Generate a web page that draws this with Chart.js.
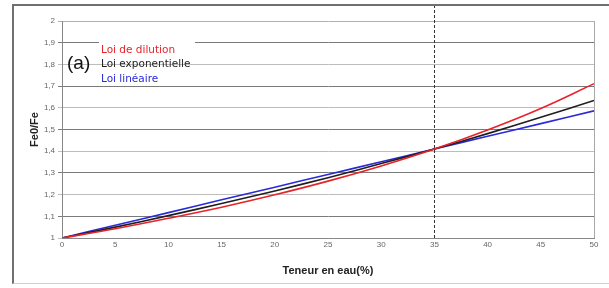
<!DOCTYPE html>
<html>
<head>
<meta charset="utf-8">
<script src="https://cdn.jsdelivr.net/npm/chart.js@4"></script>
<style>
  html, body { margin: 0; padding: 0; background: #fff; }
  #wrap { position: relative; width: 609px; height: 288px; }
  #frame { position: absolute; left: 12px; top: 4px; width: 600px; height: 280px;
           border-top: 2px solid #707070; border-left: 2px solid #707070;
           border-bottom: 1px solid #d0d0d0; box-sizing: border-box; pointer-events: none; }
</style>
</head>
<body>
<div id="wrap">
  <canvas id="chart" width="609" height="288"></canvas>
  <div id="frame"></div>
</div>
<script>
// water content (%)
const teneur = [0, 5, 10, 15, 20, 25, 30, 35, 40, 45, 50];
// Fe0/Fe for each law
const loiDilution = [1, 1.043, 1.091, 1.142, 1.199, 1.262, 1.332, 1.41, 1.498, 1.597, 1.711];
const loiExponentielle = [1, 1.050, 1.103, 1.159, 1.217, 1.278, 1.343, 1.41, 1.481, 1.556, 1.634];
const loiLineaire = [1, 1.059, 1.117, 1.176, 1.234, 1.293, 1.351, 1.41, 1.469, 1.527, 1.586];
const seriesLabels = ['Loi de dilution', 'Loi exponentielle', 'Loi linéaire'];
const seriesColors = ['#e8222a', '#1e1e1e', '#2a2ad8'];
const markerX = 35;
const panelLabel = '(a)';

const FONT = '"Liberation Sans", Arial, sans-serif';

function toPoints(ys) {
    return teneur.map((x, i) => ({ x: x, y: ys[i] }));
}

// dashed vertical marker + legend text
const overlay = {
    id: 'overlay',
    afterDatasetsDraw(chart) {
        const ctx = chart.ctx;
        const area = chart.chartArea;
        const xs = chart.scales.x;
        const px = Math.round(xs.getPixelForValue(markerX)) + 0.5;

        ctx.save();
        ctx.strokeStyle = '#333';
        ctx.lineWidth = 1;
        ctx.setLineDash([3, 2]);
        ctx.beginPath();
        ctx.moveTo(px, 5);
        ctx.lineTo(px, area.bottom);
        ctx.stroke();
        ctx.setLineDash([]);

        // legend box hides grid line behind it
        ctx.fillStyle = '#fff';
        ctx.fillRect(99, 40, 96, 6);

        ctx.font = '10.5px "DejaVu Sans", sans-serif';
        ctx.textBaseline = 'middle';
        ctx.textAlign = 'left';
        seriesLabels.forEach((lab, i) => {
            ctx.fillStyle = seriesColors[i];
            ctx.fillText(lab, 101, 50 + i * 14.5);
        });

        ctx.font = '19px ' + FONT;
        ctx.fillStyle = '#111';
        ctx.fillText(panelLabel, 67, 64);
        ctx.restore();
    }
};

const ctx = document.getElementById('chart').getContext('2d');
new Chart(ctx, {
    type: 'line',
    data: {
        datasets: [loiDilution, loiExponentielle, loiLineaire].map((ys, i) => ({
            label: seriesLabels[i],
            data: toPoints(ys),
            borderColor: seriesColors[i],
            backgroundColor: seriesColors[i],
            borderWidth: 1.6,
            pointRadius: 0,
            tension: 0.4,
            fill: false
        }))
    },
    options: {
        responsive: false,
        animation: false,
        layout: { padding: { left: 24, right: 15, top: 21, bottom: 6 } },
        plugins: {
            legend: { display: false },
            tooltip: { enabled: false }
        },
        scales: {
            x: {
                type: 'linear',
                min: 0,
                max: 50,
                afterFit: (s) => { s.height = 44; },
                ticks: { stepSize: 5, color: '#666', font: { family: FONT, size: 8 }, padding: 2 },
                grid: {
                    color: (c) => c.tick && c.tick.value === 50 ? '#a8a8a8' : 'rgba(0,0,0,0)',
                    tickLength: 4,
                    drawTicks: false
                },
                border: { color: '#888', width: 1 },
                title: {
                    display: true,
                    text: 'Teneur en eau(%)',
                    color: '#222',
                    font: { family: FONT, size: 11, weight: 'bold' },
                    padding: { top: 6 }
                }
            },
            y: {
                min: 1,
                max: 2,
                afterFit: (s) => { s.width = 38; },
                ticks: {
                    stepSize: 0.1,
                    color: '#666',
                    font: { family: FONT, size: 8 },
                    padding: 3,
                    callback: (v) => (Math.round(v * 10) / 10).toString().replace('.', ',')
                },
                grid: {
                    color: (c) => {
                        const k = Math.round(c.tick.value * 10);
                        if (k === 20) return '#b0b0b0';
                        return k % 2 === 1 ? '#7a7a7a' : '#bdbdbd';
                    },
                    tickLength: 4
                },
                border: { color: '#888', width: 1 },
                title: {
                    display: true,
                    text: 'Fe0/Fe',
                    color: '#222',
                    font: { family: FONT, size: 11, weight: 'bold' },
                    padding: { bottom: 0 }
                }
            }
        }
    },
    plugins: [overlay]
});
</script>
</body>
</html>
